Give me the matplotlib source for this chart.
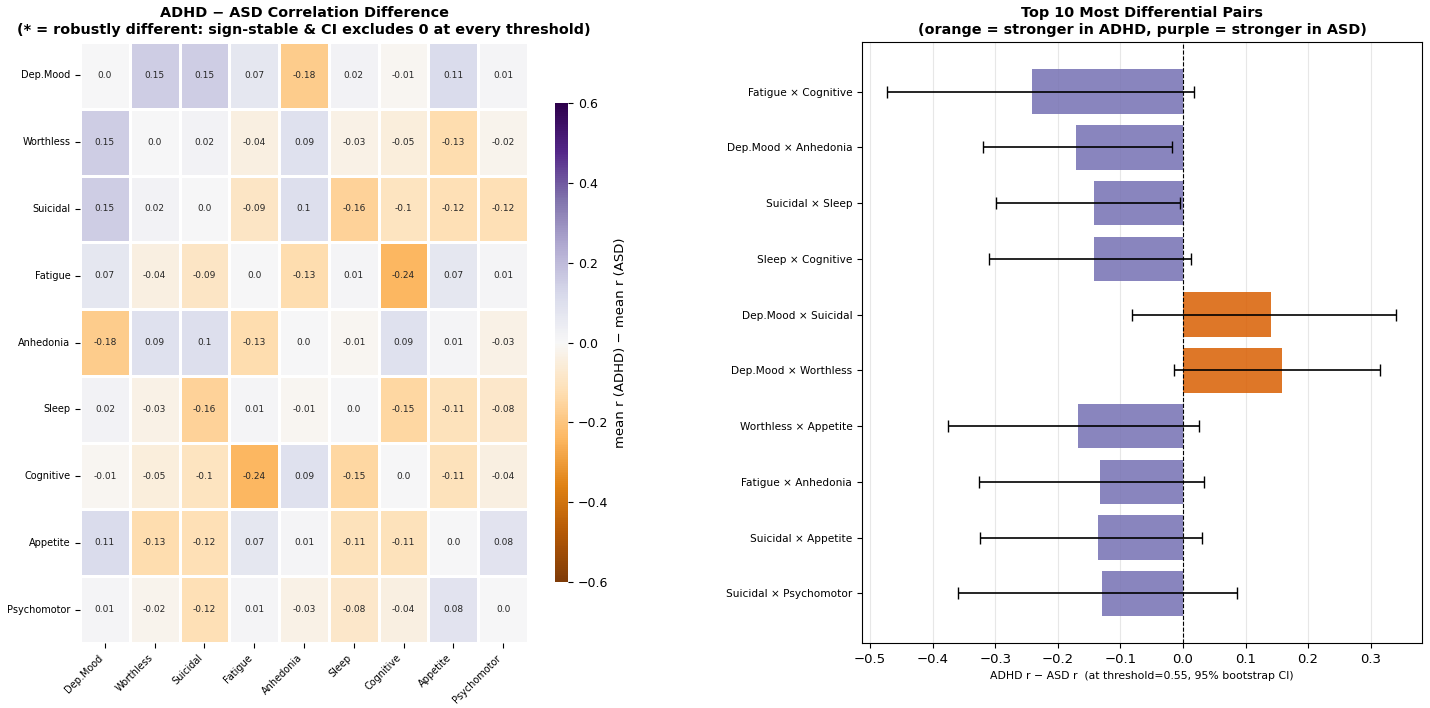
import numpy as np
import matplotlib
matplotlib.use("Agg")
import matplotlib.pyplot as plt
import seaborn as sns

symptoms = ["Dep.Mood", "Worthless", "Suicidal", "Fatigue", "Anhedonia",
            "Sleep", "Cognitive", "Appetite", "Psychomotor"]

# mean r (ADHD) - mean r (ASD)
diff = np.array([
    [0.0, 0.15, 0.15, 0.07, -0.18, 0.02, -0.01, 0.11, 0.01],
    [0.15, 0.0, 0.02, -0.04, 0.09, -0.03, -0.05, -0.13, -0.02],
    [0.15, 0.02, 0.0, -0.09, 0.1, -0.16, -0.1, -0.12, -0.12],
    [0.07, -0.04, -0.09, 0.0, -0.13, 0.01, -0.24, 0.07, 0.01],
    [-0.18, 0.09, 0.1, -0.13, 0.0, -0.01, 0.09, 0.01, -0.03],
    [0.02, -0.03, -0.16, 0.01, -0.01, 0.0, -0.15, -0.11, -0.08],
    [-0.01, -0.05, -0.1, -0.24, 0.09, -0.15, 0.0, -0.11, -0.04],
    [0.11, -0.13, -0.12, 0.07, 0.01, -0.11, -0.11, 0.0, 0.08],
    [0.01, -0.02, -0.12, 0.01, -0.03, -0.08, -0.04, 0.08, 0.0],
])

pairs = ["Fatigue × Cognitive", "Dep.Mood × Anhedonia", "Suicidal × Sleep",
         "Sleep × Cognitive", "Dep.Mood × Suicidal", "Dep.Mood × Worthless",
         "Worthless × Appetite", "Fatigue × Anhedonia", "Suicidal × Appetite",
         "Suicidal × Psychomotor"]
pair_diff = [-0.242, -0.171, -0.142, -0.143, 0.140, 0.158, -0.167, -0.133, -0.136, -0.129]
ci_lo = [-0.473, -0.320, -0.299, -0.310, -0.081, -0.015, -0.375, -0.326, -0.325, -0.360]
ci_hi = [0.018, -0.018, -0.005, 0.013, 0.341, 0.315, 0.025, 0.033, 0.031, 0.087]

W, H = 1430, 708
fig = plt.figure(figsize=(W / 100, H / 100), dpi=100)

ax1 = fig.add_axes([80 / W, 65 / H, 448 / W, 601 / H])
cax = fig.add_axes([555 / W, 126 / H, 13 / W, 479 / H])
ax2 = fig.add_axes([862 / W, 65 / H, 560 / W, 601 / H])

annot = np.array([[str(v) for v in row] for row in diff])
sns.heatmap(diff, ax=ax1, cbar_ax=cax, cmap="PuOr", vmin=-0.6, vmax=0.6, center=0,
            annot=annot, fmt="", annot_kws={"fontsize": 6.5},
            linewidths=0.8, linecolor="white",
            xticklabels=symptoms, yticklabels=symptoms,
            cbar_kws={"label": "mean r (ADHD) − mean r (ASD)"})
ax1.set_title("ADHD − ASD Correlation Difference\n"
              "(* = robustly different: sign-stable & CI excludes 0 at every threshold)",
              fontsize=10.4, fontweight="bold")
ax1.set_xticklabels(symptoms, rotation=45, ha="right", fontsize=7)
ax1.set_yticklabels(symptoms, rotation=0, fontsize=7)
cax.tick_params(labelsize=9)
cax.yaxis.label.set_size(9.5)

y = np.arange(len(pairs))
colors = ["#d95f02" if v > 0 else "#7570b3" for v in pair_diff]
err = [np.array(pair_diff) - np.array(ci_lo), np.array(ci_hi) - np.array(pair_diff)]
ax2.barh(y, pair_diff, height=0.8, color=colors, alpha=0.85)
ax2.errorbar(pair_diff, y, xerr=err, fmt="none", ecolor="black", elinewidth=1.2, capsize=4)
ax2.axvline(0, color="black", linestyle="--", linewidth=0.8)
ax2.set_yticks(y)
ax2.set_yticklabels(pairs, fontsize=7.6)
ax2.invert_yaxis()
ax2.set_xlim(-0.513, 0.382)
ax2.grid(axis="x", alpha=0.3)
ax2.set_axisbelow(True)
ax2.tick_params(axis="x", labelsize=9.5)
ax2.set_xlabel("ADHD r − ASD r  (at threshold=0.55, 95% bootstrap CI)", fontsize=7.8)
ax2.set_title("Top 10 Most Differential Pairs\n"
              "(orange = stronger in ADHD, purple = stronger in ASD)",
              fontsize=10.4, fontweight="bold")

fig.savefig("out.png", dpi=100)
